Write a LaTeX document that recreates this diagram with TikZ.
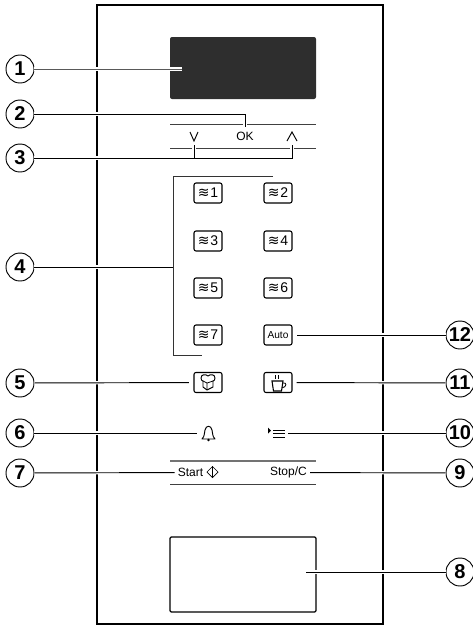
\documentclass[tikz,border=0pt]{standalone}
\usepackage{fontspec}
\setmainfont{Liberation Sans}
\newfontfamily\wavefont{DejaVu Sans}
\usetikzlibrary{shapes.geometric}
\tikzset{
  num/.style={circle, draw, line width=0.7pt, minimum size=21pt, inner sep=0pt, fill=white, font=\fontsize{15}{15}\selectfont\bfseries},
  lead/.style={line width=0.7pt, preaction={draw=white, line width=2.4pt}},
  keybox/.style={draw, rounded corners=1.5pt, line width=0.8pt, minimum width=21pt, minimum height=15pt, inner sep=0pt, font=\fontsize{10.5}{10}\selectfont},
  rule/.style={draw=black!75, line width=0.7pt},
  lbl/.style={inner sep=0pt, font=\fontsize{9}{10}\selectfont}
}
\newcommand{\wavekey}[1]{{\wavefont ≋}\hspace{0.6pt}#1}
\begin{document}
\begin{tikzpicture}[x=0.75pt, y=-0.75pt]
\useasboundingbox (0,0) rectangle (473,626);
% Panel
\draw[line width=0.9pt] (97,5) rectangle (383,624);
\fill[black!82, rounded corners=1.5pt] (170,37) rectangle (316,99);
\draw[line width=0.9pt, rounded corners=1pt] (170,537) rectangle (316,612);
% Rules
\draw[rule] (170,124) -- (316,124);
\draw[rule] (170,148) -- (316,148);
\draw[rule, draw=black!55, line width=0.9pt] (170,461) -- (316,461);
\draw[rule] (170,484) -- (316,484);

% Keys
\node[keybox] (k1) at (208,193) {\wavekey{1}};
\node[keybox] (k2) at (278,193) {\wavekey{2}};
\node[keybox] (k3) at (208,241) {\wavekey{3}};
\node[keybox] (k4) at (278,241) {\wavekey{4}};
\node[keybox] (k5) at (208,288) {\wavekey{5}};
\node[keybox] (k6) at (278,288) {\wavekey{6}};
\node[keybox] (k7) at (208,335) {\wavekey{7}};
\node[keybox, font=\fontsize{7.6}{8}\selectfont] (kauto) at (278,335) {Auto};
\node[keybox] (kbox) at (208,382.5) {};
\node[keybox] (kcup) at (278,382.5) {};

% Icons
\draw[line width=0.7pt, line join=round] (201,378) .. controls (201,374) and (206,374) .. (208,376) .. controls (210,374) and (215,374) .. (215,378) .. controls (215,380) and (214,381) .. (213,381) -- (213,387) -- (207,390) -- (203,387) -- (203,381) .. controls (202,381) and (201,380) .. (201,378);
\draw[line width=0.6pt] (203,381) -- (207,383) -- (213,381) (207,383) -- (207,390);
\draw[line width=0.8pt] (272,381) -- (283,381) -- (281.5,391) -- (273.5,391) -- cycle;
\draw[line width=0.6pt] (283,383) .. controls (287,382) and (287,387) .. (282,388);
\draw[line width=0.6pt] (275.5,375) -- (275.5,379) (278.5,375) -- (278.5,379);
\draw[line width=0.7pt, line join=round] (202,439) .. controls (205,436) and (204,433) .. (205,430) .. controls (206,425) and (211,425) .. (212,430) .. controls (213,433) and (212,436) .. (215,439) -- cycle;
\fill (208.5,440) circle (1pt);
\fill (268,427.5) -- (271,430.5) -- (268,433.5) -- cycle;
\draw[line width=0.7pt] (273,430.5) -- (285,430.5) (273,433.5) -- (285,433.5) (273,437) -- (285,437);

% Labels
\node[lbl] (ok) at (245,136) {OK};
\node[lbl] (lblstart) at (190.5,472.5) {Start};
\node[lbl] (lblstop) at (288.5,472.5) {Stop/C};
\node[diamond, draw, line width=0.5pt, minimum size=8.5pt, inner sep=0pt] (startmark) at (212.5,472) {};
\draw[line width=0.5pt] (startmark.north) -- (startmark.south);
\draw[line width=0.7pt] (190,132) -- (194,141) -- (198,132);
\draw[line width=0.7pt] (287,141) -- (292,132) -- (297,141);

% Numbers
\node[num] (n1) at (20,69) {1};
\node[num] (n2) at (20,114) {2};
\node[num] (n3) at (20,158) {3};
\node[num] (n4) at (20,267) {4};
\node[num] (n5) at (20,383) {5};
\node[num] (n6) at (20,433) {6};
\node[num] (n7) at (20,473) {7};
\node[num] (n8) at (460,572) {8};
\node[num] (n9) at (460,473) {9};
\node[num] (n10) at (460,433) {10};
\node[num] (n11) at (460,383) {11};
\node[num] (n12) at (460,335) {12};

% Leaders
\coordinate (disp) at (182,69);
\coordinate (lower) at (306,572);
\coordinate (okend) at (245,127);
\coordinate (upend) at (292,145);
\coordinate (downend) at (194,145);
\coordinate (brtop) at (273,176);
\coordinate (brbot) at (202,355);
\coordinate (brmid) at (173,267);
\coordinate (bell) at (197,433);
\coordinate (menu) at (288,433);
\draw[lead, draw=black!65] (n1) -- (disp);
\draw[lead] (n2) -| (okend);
\draw[lead] (n3) -| (upend);
\draw[lead] (downend) -- (downend |- n3);
\draw[lead] (n4) -- (brmid);
\draw[line width=0.7pt, draw=black!80] (brtop) -- (173,176) -- (173,355) -- (brbot);
\draw[lead, shorten >=3.5pt] (n5) -- (kbox);
\draw[lead] (n6) -- (bell);
\draw[lead, shorten >=2.2pt] (n7) -- (lblstart);
\draw[lead] (n8) -- (lower);
\draw[lead, shorten >=2.2pt] (n9) -- (lblstop);
\draw[lead] (n10) -- (menu);
\draw[lead, shorten >=3pt] (n11) -- (kcup);
\draw[lead, shorten >=3pt] (n12) -- (kauto);
\end{tikzpicture}
\end{document}
